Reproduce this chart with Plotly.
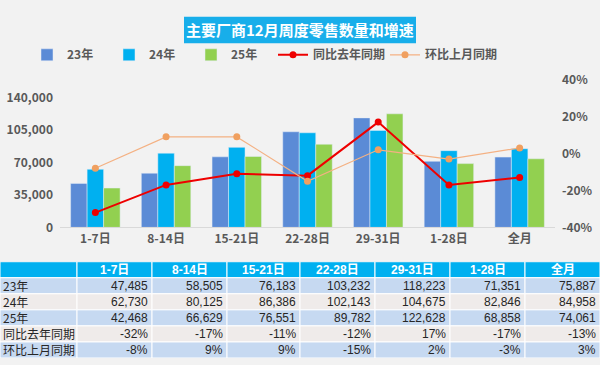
import plotly.graph_objects as go

categories = ["1-7日", "8-14日", "15-21日", "22-28日", "29-31日", "1-28日", "全月"]
sales_23 = [47485, 58505, 76183, 103232, 118223, 71351, 75887]
sales_24 = [62730, 80125, 86386, 102143, 104675, 82846, 84958]
sales_25 = [42468, 66629, 76551, 89782, 122628, 68858, 74061]
yoy = [-0.32, -0.17, -0.11, -0.12, 0.17, -0.17, -0.13]
mom = [-0.08, 0.09, 0.09, -0.15, 0.02, -0.03, 0.03]
left_ticks = [0, 35000, 70000, 105000, 140000]
right_ticks = [-0.4, -0.2, 0.0, 0.2, 0.4]
row_labels = ["23年", "24年", "25年", "同比去年同期", "环比上月同期"]

W, H = 600, 365
BG = "#f2f2f2"
C23, C24, C25 = "#5b8bd6", "#00b0f0", "#92d050"
RED, ORANGE = "#ee0000", "#f4b183"
CJK = "Noto Sans CJK SC"
TXT = "#595959"


def py(px):
    return (H - px) / H


fig = go.Figure()

fig.add_trace(go.Bar(x=categories, y=sales_23, name="23年", marker_color=C23, legend="legend"))
fig.add_trace(go.Bar(x=categories, y=sales_24, name="24年", marker_color=C24, legend="legend2"))
fig.add_trace(go.Bar(x=categories, y=sales_25, name="25年", marker_color=C25, legend="legend3"))
fig.add_trace(go.Scatter(x=categories, y=yoy, name="同比去年同期", yaxis="y2", mode="lines+markers",
                         line=dict(color=RED, width=2), marker=dict(color=RED, size=7), legend="legend4"))
fig.add_trace(go.Scatter(x=categories, y=mom, name="环比上月同期", yaxis="y2", mode="lines+markers",
                         line=dict(color=ORANGE, width=1.2), marker=dict(color="#f0a060", size=7),
                         legend="legend5"))


def fmt_num(v):
    return f"{v:,}"


def fmt_pct(v):
    return f"{round(v * 100):d}%"


table_rows = [
    [fmt_num(v) for v in sales_23],
    [fmt_num(v) for v in sales_24],
    [fmt_num(v) for v in sales_25],
    [fmt_pct(v) for v in yoy],
    [fmt_pct(v) for v in mom],
]
col_edges = [0, 77, 152, 227, 300, 375, 450, 525, 600]
row_fill = ["#c6d9f1", "#efebea", "#c6d9f1", "#efebea", "#c6d9f1"]
HEAD = "#00b0f0"

shapes = []
annotations = []
n_rows = len(table_rows) + 1
for r in range(n_rows):
    for c in range(len(col_edges) - 1):
        fill = HEAD if r == 0 else row_fill[r - 1]
        shapes.append(dict(type="rect", xref="x3", yref="y3", x0=col_edges[c], x1=col_edges[c + 1],
                           y0=r, y1=r + 1, fillcolor=fill, line=dict(color="white", width=1),
                           layer="below"))
for c, cat in enumerate(categories):
    annotations.append(dict(xref="x3", yref="y3", x=(col_edges[c + 1] + col_edges[c + 2]) / 2, y=0.5,
                            text=f"<b>{cat}</b>", showarrow=False, xanchor="center", yanchor="middle",
                            font=dict(family="Liberation Sans, " + CJK, size=12, color="white")))
for r, lab in enumerate(row_labels):
    annotations.append(dict(xref="x3", yref="y3", x=1, y=r + 1.5, text=lab, showarrow=False,
                            xanchor="left", yanchor="middle",
                            font=dict(family=CJK, size=12, color="#262626")))
    for c, txt in enumerate(table_rows[r]):
        annotations.append(dict(xref="x3", yref="y3", x=col_edges[c + 2] - 2, y=r + 1.5, text=txt,
                                showarrow=False, xanchor="right", yanchor="middle",
                                font=dict(family="Liberation Sans", size=12, color="#262626")))

# title box + text
shapes.append(dict(type="rect", xref="paper", yref="paper", x0=184 / W, x1=416 / W, y0=py(35), y1=py(7),
                   fillcolor="#18aeea", line=dict(width=0), layer="below"))
annotations.append(dict(text="<b>主要厂商12月周度零售数量和增速</b>", x=0.5, y=py(20), xref="paper", yref="paper",
                        xanchor="center", yanchor="middle", showarrow=False,
                        font=dict(family=CJK, size=15, color="white")))

ydom = [py(228), py(73)]
leg_common = dict(orientation="h", yanchor="middle", y=py(47), xanchor="left",
                  bgcolor="rgba(0,0,0,0)", borderwidth=0,
                  font=dict(family=CJK, size=12, color=TXT, weight="bold"), itemwidth=30)
legend_x = [27, 109, 191, 273, 385]
legend_names = ["legend", "legend2", "legend3", "legend4", "legend5"]
layout_legends = {}
for name, lx in zip(legend_names, legend_x):
    d = dict(leg_common)
    d["x"] = lx / W
    layout_legends[name] = d

tickfont = dict(family=CJK, size=12, color=TXT, weight="bold")
fig.update_layout(
    width=W, height=H,
    paper_bgcolor=BG, plot_bgcolor=BG,
    margin=dict(l=0, r=0, t=0, b=0),
    barmode="group", bargap=0.3, bargroupgap=0,
    showlegend=True,
    xaxis=dict(domain=[60 / W, 555 / W], showline=True, linecolor="#d9d9d9", linewidth=1,
               ticks="", showgrid=False, anchor="y", tickfont=tickfont),
    yaxis=dict(domain=ydom, range=[0, 140000 * 155 / 136], tickvals=left_ticks,
               ticktext=[f"{v:,}" for v in left_ticks], showgrid=False, zeroline=False,
               tickfont=tickfont, ticklabelstandoff=6),
    yaxis2=dict(domain=ydom, range=[-0.4, 0.4], tickvals=right_ticks,
                ticktext=[f"{round(v * 100)}%" for v in right_ticks], overlaying="y", side="right",
                showgrid=False, zeroline=False, tickfont=tickfont, ticklabelstandoff=6),
    xaxis3=dict(domain=[0, 1], range=[0, 600], visible=False, anchor="y3", fixedrange=True),
    yaxis3=dict(domain=[0, py(264)], range=[n_rows, 0], visible=False, anchor="x3", fixedrange=True),
    shapes=shapes,
    annotations=annotations,
    **layout_legends,
)

fig.write_html("out.html", config={"displayModeBar": False},
               post_script="document.body.style.margin='0px';")
